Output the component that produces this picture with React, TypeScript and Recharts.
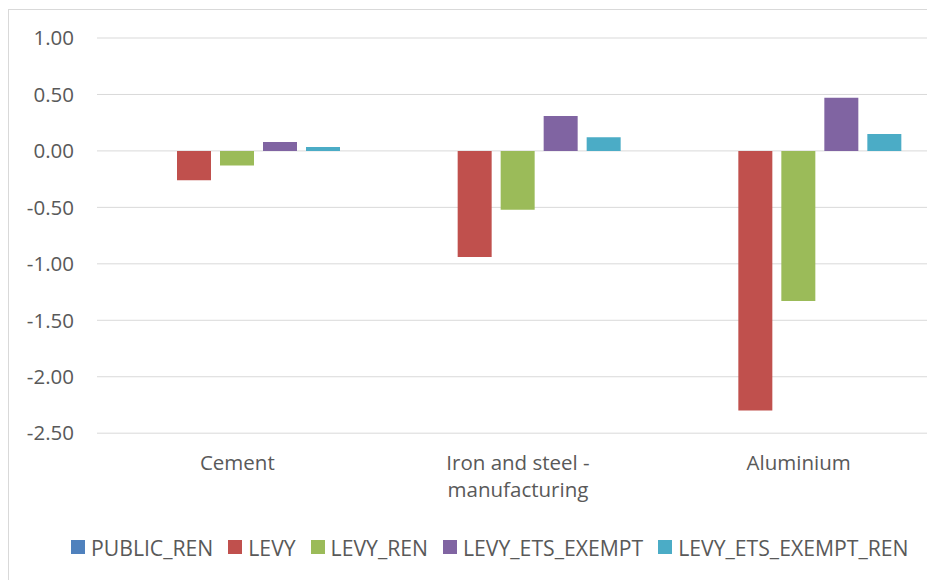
import React from "react";
import { BarChart, Bar, XAxis, YAxis, CartesianGrid, Legend } from "recharts";

const categories = ["Cement", "Iron and steel - manufacturing", "Aluminium"];
const publicRen = [0, 0, 0];
const levy = [-0.26, -0.94, -2.3];
const levyRen = [-0.13, -0.52, -1.33];
const levyEtsExempt = [0.08, 0.31, 0.47];
const levyEtsExemptRen = [0.035, 0.12, 0.15];
const yTicks = [-2.5, -2, -1.5, -1, -0.5, 0, 0.5, 1];

const seriesNames = ["PUBLIC_REN", "LEVY", "LEVY_REN", "LEVY_ETS_EXEMPT", "LEVY_ETS_EXEMPT_REN"];
const seriesColors = ["#4F81BD", "#C0504D", "#9BBB59", "#8064A2", "#4BACC6"];
const seriesValues = [publicRen, levy, levyRen, levyEtsExempt, levyEtsExemptRen];

const data = categories.map((name, i) => {
  const row: Record<string, string | number> = { name };
  seriesNames.forEach((s, k) => {
    row[s] = seriesValues[k][i];
  });
  return row;
});

const FONT = "'Open Sans', sans-serif";
const FS = 20.5;
const LEGEND_FS = 21.2;
const TEXT_COLOR = "#595959";

let measureCtx: CanvasRenderingContext2D | null = null;
function measure(t: string): number {
  if (!measureCtx) {
    const c = document.createElement("canvas");
    measureCtx = c.getContext("2d");
  }
  if (!measureCtx) return t.length * FS * 0.55;
  measureCtx.font = `${FS}px ${FONT}`;
  return measureCtx.measureText(t).width;
}

function wrap(label: string, maxWidth: number): string[] {
  const words = label.split(" ");
  const lines: string[] = [];
  let cur = "";
  words.forEach((w) => {
    const next = cur ? cur + " " + w : w;
    if (cur && measure(next) > maxWidth) {
      lines.push(cur);
      cur = w;
    } else {
      cur = next;
    }
  });
  if (cur) lines.push(cur);
  return lines;
}

const CategoryTick = (props: any) => {
  const { x, y, payload } = props;
  const lines = wrap(String(payload.value), 200);
  return (
    <text
      x={x}
      y={y}
      textAnchor="middle"
      fill={TEXT_COLOR}
      style={{ fontFamily: FONT, fontSize: FS }}
    >
      {lines.map((l, i) => (
        <tspan key={i} x={x} y={y + 37 + i * 27}>
          {l}
        </tspan>
      ))}
    </text>
  );
};

const LegendContent = () => (
  <div
    style={{
      display: "flex",
      alignItems: "center",
      height: 28,
      fontFamily: FONT,
      fontSize: LEGEND_FS,
      color: TEXT_COLOR,
      whiteSpace: "nowrap",
    }}
  >
    {seriesNames.map((s, i) => (
      <div key={s} style={{ display: "flex", alignItems: "center", marginRight: 15 }}>
        <span style={{ width: 14, height: 14, background: seriesColors[i], display: "inline-block", marginRight: 6 }} />
        <span>{s}</span>
      </div>
    ))}
  </div>
);

export default function App() {
  return (
    <div style={{ position: "relative", width: 927, height: 572, overflow: "hidden", background: "#fff" }}>
      <div
        style={{
          position: "absolute",
          left: 0,
          top: 1,
          width: 1000,
          height: 700,
          border: "1px solid #d9d9d9",
          boxSizing: "border-box",
        }}
      />
      <div style={{ position: "absolute", left: 0, top: 0 }}>
        <BarChart
          width={931}
          height={572}
          data={data}
          margin={{ top: 30, right: 0, bottom: 0, left: 0 }}
          barGap={9}
          barCategoryGap={37}
        >
          <CartesianGrid vertical={false} stroke="#d9d9d9" strokeWidth={1} />
          <XAxis
            dataKey="name"
            axisLine={false}
            tickLine={false}
            tickSize={0}
            tickMargin={0}
            height={66.8}
            interval={0}
            tick={<CategoryTick />}
          />
          <YAxis
            width={89}
            domain={[-2.5, 1]}
            ticks={yTicks}
            axisLine={false}
            tickLine={false}
            tickSize={0}
            tickMargin={23}
            interval={0}
            tickFormatter={(v: number) => v.toFixed(2)}
            tick={{ fill: TEXT_COLOR, fontSize: FS, fontFamily: FONT }}
          />
          <Legend
            height={80}
            content={<LegendContent />}
            wrapperStyle={{ top: 525, left: 63, width: 900, bottom: "auto" }}
          />
          {seriesNames.map((s, i) => (
            <Bar key={s} dataKey={s} fill={seriesColors[i]} isAnimationActive={false} />
          ))}
        </BarChart>
      </div>
    </div>
  );
}
